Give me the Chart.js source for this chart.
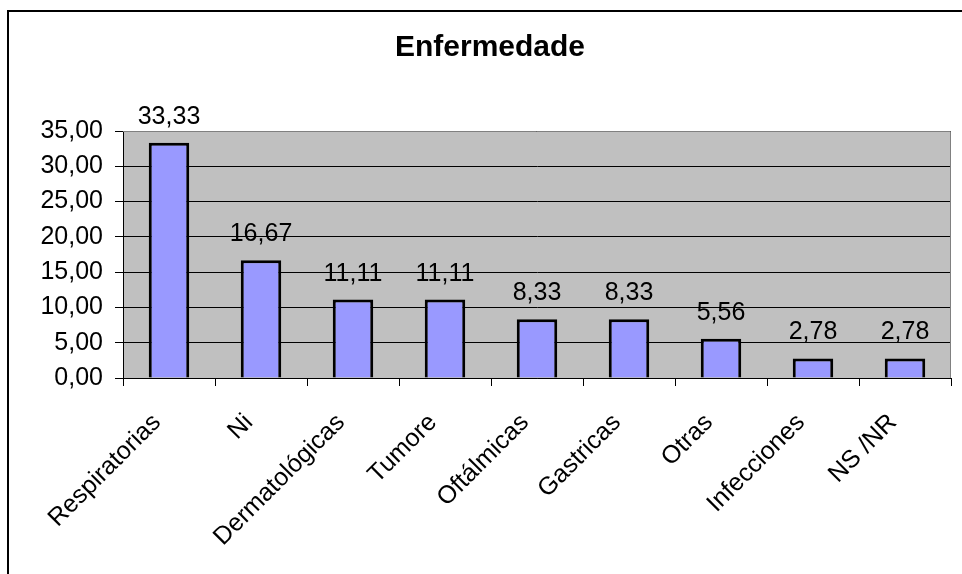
<!DOCTYPE html>
<html>
<head>
<meta charset="utf-8">
<script src="https://cdn.jsdelivr.net/npm/chart.js@4"></script>
<style>
  html, body { margin: 0; padding: 0; background: #fff; overflow: hidden; }
  canvas { display: block; }
</style>
</head>
<body>
<canvas id="chart" width="962" height="574"></canvas>
<script>
const categories = ['Respiratorias', 'Ni', 'Dermatológicas', 'Tumore', 'Oftálmicas', 'Gastricas', 'Otras', 'Infecciones', 'NS /NR'];
const values = [33.33, 16.67, 11.11, 11.11, 8.33, 8.33, 5.56, 2.78, 2.78];
const yTicks = [0, 5, 10, 15, 20, 25, 30, 35];

const FONT = '"Liberation Sans", Arial, sans-serif';
const fmt = v => v.toFixed(2).replace('.', ',');

// gray plot background, frames and value labels like the old Excel chart
const excelLook = {
  id: 'excelLook',
  beforeDraw(chart) {
    const { ctx, chartArea: a } = chart;
    ctx.save();
    ctx.fillStyle = '#C0C0C0';
    ctx.fillRect(a.left, a.top, a.right - a.left, a.bottom - a.top);
    ctx.restore();
  },
  afterDatasetsDraw(chart) {
    const { ctx } = chart;
    const meta = chart.getDatasetMeta(0);
    ctx.save();
    ctx.font = '25px ' + FONT;
    ctx.fillStyle = '#000';
    ctx.textAlign = 'center';
    ctx.textBaseline = 'alphabetic';
    meta.data.forEach((bar, i) => {
      ctx.fillText(fmt(values[i]), bar.x, bar.y - 19);
    });
    ctx.restore();
  },
  afterDraw(chart) {
    const { ctx, chartArea: a } = chart;
    ctx.save();
    ctx.strokeStyle = '#808080';
    ctx.lineWidth = 1;
    ctx.beginPath();
    ctx.moveTo(a.left, a.top + 0.5);
    ctx.lineTo(a.right - 0.5, a.top + 0.5);
    ctx.lineTo(a.right - 0.5, a.bottom);
    ctx.stroke();
    ctx.strokeStyle = '#000';
    ctx.lineWidth = 2;
    ctx.beginPath();
    ctx.moveTo(8, 574);
    ctx.lineTo(8, 11);
    ctx.lineTo(962, 11);
    ctx.stroke();
    ctx.restore();
  }
};

new Chart(document.getElementById('chart'), {
  type: 'bar',
  data: {
    labels: categories,
    datasets: [{
      data: values,
      backgroundColor: '#9999FF',
      borderColor: '#000',
      borderWidth: 3,
      barPercentage: 0.44,
      categoryPercentage: 1
    }]
  },
  options: {
    responsive: false,
    animation: false,
    layout: { padding: { top: 10, right: 11, bottom: 0, left: 29 } },
    plugins: {
      legend: { display: false },
      tooltip: { enabled: false },
      title: {
        display: true,
        text: 'Enfermedade',
        color: '#000',
        font: { family: FONT, size: 30, weight: 'bold' },
        padding: { top: 20, bottom: 65 }
      }
    },
    scales: {
      x: {
        afterFit(scale) { scale.height = 196; },
        grid: { display: true, drawOnChartArea: false, drawTicks: true, tickLength: 8, color: '#000', offset: true },
        border: { display: true, color: '#000', width: 1 },
        ticks: {
          color: '#000',
          font: { family: FONT, size: 25 },
          minRotation: 45,
          maxRotation: 45,
          autoSkip: false,
          labelOffset: -12,
          padding: 22
        }
      },
      y: {
        min: 0,
        max: 35,
        afterFit(scale) { scale.width = 94; },
        afterBuildTicks(scale) { scale.ticks = yTicks.map(v => ({ value: v })); },
        grid: { color: '#000', tickLength: 8, drawTicks: true },
        border: { display: true, color: '#000', width: 1 },
        ticks: {
          color: '#000',
          font: { family: FONT, size: 25 },
          padding: 12,
          callback: v => fmt(v)
        }
      }
    }
  },
  plugins: [excelLook]
});
</script>
</body>
</html>
